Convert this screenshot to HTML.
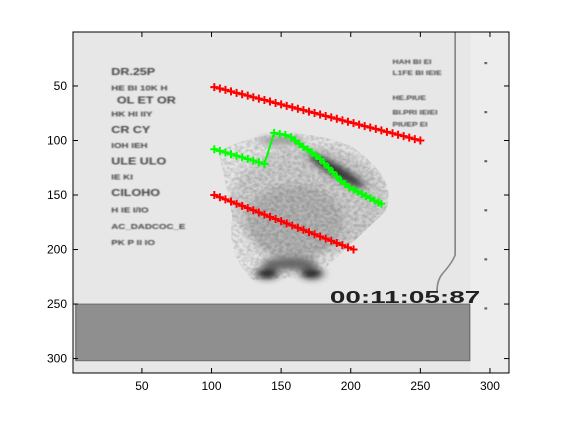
<!DOCTYPE html>
<html><head><meta charset="utf-8"><style>
body{margin:0;background:#fff;width:561px;height:420px;overflow:hidden;font-family:"Liberation Sans",sans-serif}
svg text{font-family:"Liberation Sans",sans-serif}
</style></head><body>
<svg id="chart" width="561" height="420" viewBox="0 0 561 420">
<defs>
<filter id="blur2" x="-50%" y="-50%" width="200%" height="200%"><feGaussianBlur stdDeviation="3"/></filter>
<filter id="blur1"><feGaussianBlur stdDeviation="0.6"/></filter>
<filter id="speck" x="0" y="0" width="100%" height="100%"><feTurbulence type="fractalNoise" baseFrequency="0.35" numOctaves="2" seed="3"/><feColorMatrix type="matrix" values="0 0 0 0 0  0 0 0 0 0  0 0 0 0 0  0 0 0 -1.6 1.1"/><feComposite in2="SourceGraphic" operator="in"/></filter>
<clipPath id="clip"><rect x="73" y="32" width="436" height="341"/></clipPath>
<clipPath id="fan"><path d="M105 110 Q150 80 200 105 Q235 135 225 165 Q200 195 175 225 L130 228 Q110 205 115 170 Z"/></clipPath>
</defs>
<g clip-path="url(#clip)">
<g transform="translate(73,32) scale(1.3922,1.0904) translate(-0.5,-0.5)">
<rect x="0" y="0" width="314" height="314" fill="#e7e7e7"/>
<rect x="286" y="0" width="28" height="314" fill="#ededed"/>
<g clip-path="url(#fan)">
<g filter="url(#blur2)">
<ellipse cx="170" cy="155" rx="55" ry="50" fill="#cfcfcf"/>
<ellipse cx="160" cy="175" rx="35" ry="35" fill="#b5b5b5"/>
</g>
<rect x="100" y="80" width="140" height="160" fill="#000" opacity="0.22" filter="url(#speck)"/>
</g>
<g filter="url(#blur2)">
<ellipse cx="190" cy="128" rx="25" ry="5" fill="#333" transform="rotate(38 190 128)"/>
<ellipse cx="140" cy="222" rx="8" ry="5" fill="#222"/>
<ellipse cx="172" cy="222" rx="8" ry="5" fill="#222"/>
<ellipse cx="156" cy="213" rx="20" ry="6" fill="#666"/>
<ellipse cx="150" cy="100" rx="16" ry="4" fill="#999"/>
</g>
<g fill="#444" font-size="9" font-weight="bold" filter="url(#blur1)">
<text x="28" y="40">DR.25P</text>
<text x="28" y="54" font-size="7">HE  BI  10K  H</text>
<text x="32" y="66">OL  ET  OR</text>
<text x="28" y="78" font-size="7">HK  HI  IIY</text>
<text x="28" y="93">CR  CY</text>
<text x="28" y="107" font-size="7">IOH  IEH</text>
<text x="28" y="122">ULE  ULO</text>
<text x="28" y="136" font-size="7">IE  KI</text>
<text x="28" y="151">CILOHO</text>
<text x="28" y="166" font-size="7">H  IE  I/IO</text>
<text x="28" y="181" font-size="7">AC_DADCOC_E</text>
<text x="28" y="196" font-size="7">PK  P  II  IO</text>
<text x="230" y="30" font-size="6">HAH   BI   EI</text>
<text x="230" y="40" font-size="6">L1FE  BI  IEIE</text>
<text x="230" y="63" font-size="6">HE.PIUE</text>
<text x="230" y="76" font-size="6">BI.PRI   IEIEI</text>
<text x="230" y="87" font-size="6">PIUEP        EI</text>
</g>
<text x="185" y="249" font-size="16" font-weight="bold" fill="#222" font-family="Liberation Mono" textLength="108" lengthAdjust="spacingAndGlyphs">00:11:05:87</text>
<path d="M275 0 L275 205 Q273 212 266 222 Q262 228 262 238" stroke="#888" stroke-width="1.2" fill="none"/>
<g fill="#666"><rect x="296" y="28" width="2" height="2"/><rect x="296" y="73" width="2" height="2"/><rect x="296" y="118" width="2" height="2"/><rect x="296" y="163" width="2" height="2"/><rect x="296" y="208" width="2" height="2"/><rect x="296" y="253" width="2" height="2"/></g>
<rect x="2.5" y="250" width="283" height="52" fill="#8f8f8f" stroke="#666" stroke-width="0.8"/>
</g>
</g>
<rect x="73" y="32" width="436" height="341" fill="none" stroke="#000" stroke-width="1"/>
<g id="ticks"></g>
<g id="series" clip-path="url(#clip)"></g>
</svg>
<script>
const xTicks=[50,100,150,200,250,300];
const yTicks=[50,100,150,200,250,300];
const red1X=[102,106,110,114,118,122,126,130,134,138,142,146,150,154,158,162,166,170,174,178,182,186,190,194,198,202,206,210,214,218,222,226,230,234,238,242,246,250];
const red1Y=[51,52.3,53.6,55,56.3,57.6,58.9,60.3,61.6,62.9,64.2,65.6,66.9,68.2,69.5,70.9,72.2,73.5,74.8,76.2,77.5,78.8,80.1,81.5,82.8,84.1,85.4,86.8,88.1,89.4,90.7,92.1,93.4,94.7,96,97.4,98.7,100];
const red2X=[102,106,110,114,118,122,126,130,134,138,142,146,150,154,158,162,166,170,174,178,182,186,190,194,198,202];
const red2Y=[150,152,154,156,158,160,162,164,166,168,170,172,174,176,178,180,182,184,186,188,190,192,194,196,198,200];
const greenX=[102,106,110,114,118,122,126,130,134,138,145,149,153,157,160,163,166,169,172,175,178,181,184,187,190,193,196,199,202,205,208,211,214,217,220,222];
const greenY=[108,109.5,111,112.5,114,115.5,117,118.5,120,121.5,93,94,95,97,100,103,106,108,111,114,117,121,125,129,133,137,140,143,145,147,149,151,153,155,157,158];
const NS='http://www.w3.org/2000/svg';
const sx=v=>73+(v-0.5)*1.3922;
const sy=v=>32+(v-0.5)*1.0904;
const T=document.getElementById('ticks');
function mk(t,a,p){const e=document.createElementNS(NS,t);for(const k in a)e.setAttribute(k,a[k]);p.appendChild(e);return e;}
xTicks.forEach(v=>{
 const x=sx(v);
 mk('line',{x1:x,x2:x,y1:373,y2:368,stroke:'#000'},T);
 mk('line',{x1:x,x2:x,y1:32,y2:37,stroke:'#000'},T);
 const t=mk('text',{x:x,y:390,'text-anchor':'middle','font-size':'12',fill:'#000'},T);
 t.textContent=v;
 
 
});
yTicks.forEach(v=>{
 const y=sy(v);
 mk('line',{x1:73,x2:78,y1:y,y2:y,stroke:'#000'},T);
 mk('line',{x1:509,x2:504,y1:y,y2:y,stroke:'#000'},T);
 const t=mk('text',{x:67,y:y+4,'text-anchor':'end','font-size':'12',fill:'#000'},T);
 t.textContent=v;
 
 
});
const S=document.getElementById('series');
function series(xs,ys,color,name){
 const g=mk('g',{},S);
 
 
 const pts=xs.map((x,i)=>sx(x)+','+sy(ys[i])).join(' ');
 mk('polyline',{points:pts,fill:'none',stroke:color,'stroke-width':2},g);
 let d='';
 xs.forEach((x,i)=>{const X=sx(x),Y=sy(ys[i]);d+=`M${X-4},${Y}H${X+4}M${X},${Y-4}V${Y+4}`;});
 mk('path',{d:d,stroke:color,'stroke-width':2,fill:'none'},g);
}
series(red1X,red1Y,'#ff0000','red-line-upper');
series(red2X,red2Y,'#ff0000','red-line-lower');
series(greenX,greenY,'#00ff00','green-tracked-line');
</script>
</body></html>
